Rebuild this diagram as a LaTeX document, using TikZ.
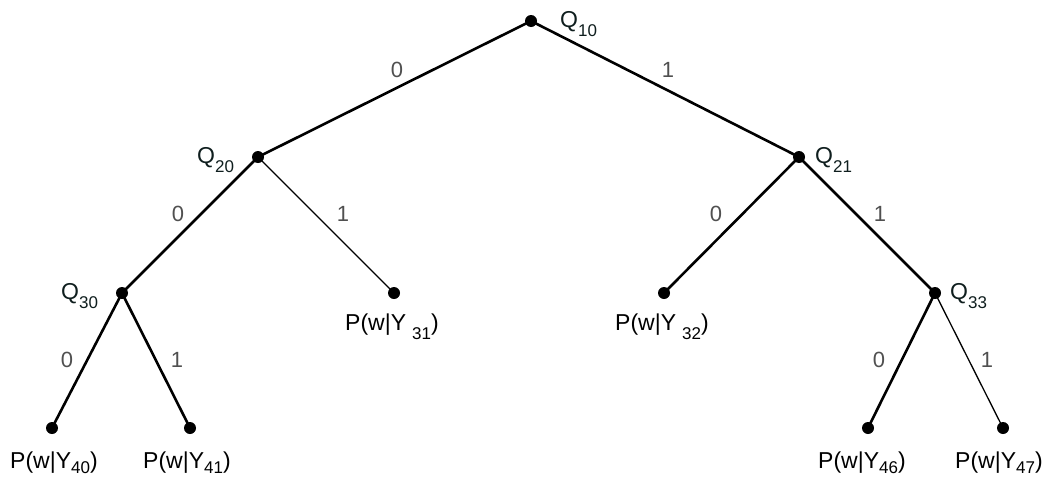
\documentclass[tikz,border=0pt]{standalone}
\usepackage{fontspec}
\setmainfont{Liberation Sans}
\newcommand{\lowsub}[1]{\raisebox{-9pt}{\fontsize{17}{17}\selectfont #1}}
\newcommand{\botsub}[1]{\raisebox{-5pt}{\fontsize{17}{17}\selectfont #1}}
\definecolor{qcol}{RGB}{15,30,30}
\definecolor{lblgray}{RGB}{80,80,80}
\tikzset{
  dot/.style={circle,fill=black,inner sep=0pt,minimum size=12pt},
  thick edge/.style={line width=2.6pt},
  thin edge/.style={line width=1.3pt},
  qlabel/.style={text=qcol,font=\fontsize{23}{23}\selectfont,inner sep=0pt,anchor=base west},
  plabel/.style={font=\fontsize{23}{23}\selectfont,inner sep=0pt,anchor=base west},
  elabel/.style={text=lblgray,font=\fontsize{22}{22}\selectfont,inner sep=0pt}
}
\begin{document}
\begin{tikzpicture}[x=1pt,y=-1pt]
\useasboundingbox (0,0) rectangle (1052,477);
% dots
\node[dot] (q10) at (531,21) {};
\node[dot] (q20) at (258,157) {};
\node[dot] (q21) at (799,157) {};
\node[dot] (q30) at (122,293) {};
\node[dot] (p31) at (394,293) {};
\node[dot] (p32) at (664,293) {};
\node[dot] (q33) at (935,293) {};
\node[dot] (p40) at (52,428) {};
\node[dot] (p41) at (190,428) {};
\node[dot] (p46) at (868,428) {};
\node[dot] (p47) at (1003,428) {};
% edges
\draw[thick edge] (q10.center) -- (q20.center);
\draw[thick edge] (q10.center) -- (q21.center);
\draw[thick edge] (q20.center) -- (q30.center);
\draw[thin edge] (q20.center) -- (p31.center);
\draw[thick edge] (q21.center) -- (p32.center);
\draw[thick edge] (q21.center) -- (q33.center);
\draw[thick edge] (q30.center) -- (p40.center);
\draw[thick edge] (q30.center) -- (p41.center);
\draw[thick edge] (q33.center) -- (p46.center);
\draw[thin edge] (q33.center) -- (p47.center);
% Q labels
\node[qlabel] (lq10) at (560,27) {Q\lowsub{10}};
\node[qlabel] (lq20) at (197,163) {Q\lowsub{20}};
\node[qlabel] (lq21) at (815,163) {Q\lowsub{21}};
\node[qlabel] (lq30) at (61,299) {Q\lowsub{30}};
\node[qlabel] (lq33) at (950,299) {Q\lowsub{33}};
% P labels
\node[plabel] (lp31) at (345,330) {P(w|Y\hspace{6pt}\lowsub{31})};
\node[plabel] (lp32) at (615,330) {P(w|Y\hspace{6pt}\lowsub{32})};
\node[plabel] (lp40) at (10,468) {P(w|Y\botsub{40})};
\node[plabel] (lp41) at (143,468) {P(w|Y\botsub{41})};
\node[plabel] (lp46) at (818,468) {P(w|Y\botsub{46})};
\node[plabel] (lp47) at (955,468) {P(w|Y\botsub{47})};
% edge labels
\node[elabel] (e1) at (397,70) {0};
\node[elabel] (e2) at (668,70) {1};
\node[elabel] (e3) at (178,214) {0};
\node[elabel] (e4) at (343,214) {1};
\node[elabel] (e5) at (716,214) {0};
\node[elabel] (e6) at (880,214) {1};
\node[elabel] (e7) at (67,360) {0};
\node[elabel] (e8) at (177,360) {1};
\node[elabel] (e9) at (879,360) {0};
\node[elabel] (e10) at (987,360) {1};
\end{tikzpicture}
\end{document}
